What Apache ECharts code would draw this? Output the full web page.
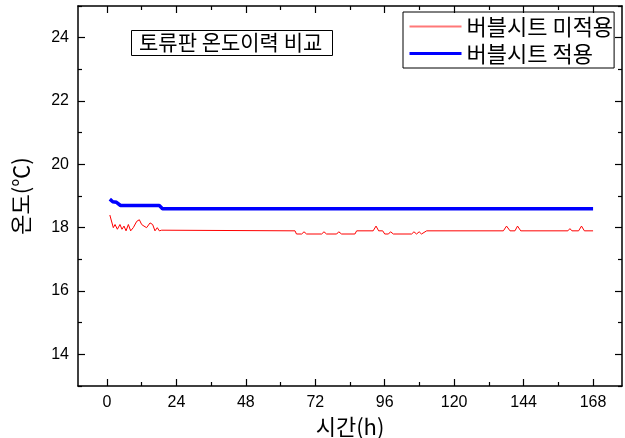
<!DOCTYPE html>
<html>
<head>
<meta charset="utf-8">
<script src="https://cdn.jsdelivr.net/npm/echarts@6/dist/echarts.min.js"></script>
<style>html,body{margin:0;padding:0;background:#fff}#c{width:625px;height:438px}</style>
</head>
<body>
<div id="c"></div>
<script>
const titleText = '토류판 온도이력 비교';
const seriesNames = ['버블시트 미적용', '버블시트 적용'];
const xTicks = [0, 24, 48, 72, 96, 120, 144, 168];
const xMinorTicks = [12, 36, 60, 84, 108, 132, 156];
const yTicks = [14, 16, 18, 20, 22, 24];
const yMinorTicks = [13, 15, 17, 19, 21, 23, 25];

const redHours = [1, 2.2, 2.8, 3.6, 4.5, 5.2, 5.9, 6.6, 7.4, 8.2, 9.1, 10.3, 11.2, 12.0, 12.8, 13.7, 14.9, 15.8, 16.6, 17.4, 18.1, 18.9, 19.5,
  65.0, 65.5, 67.3, 68.1, 69.0, 74.2, 75.0, 75.9, 79.4, 80.1, 81.1, 85.7, 86.3, 92.0, 93.0, 93.9, 95.3, 96.0, 97.3, 98.0, 99.0, 105.3, 106.1, 107.0, 107.9, 108.7, 109.3, 110.5,
  137.0, 138.1, 139.3, 141.0, 141.9, 143.0, 159.3, 160.0, 160.7, 163.0, 164.0, 165.0, 168];
const redTemps = [18.4, 18.0, 18.1, 17.95, 18.1, 17.95, 18.05, 17.9, 18.1, 17.9, 18.0, 18.2, 18.25, 18.1, 18.05, 18.0, 18.15, 18.1, 17.9, 18.0, 17.9, 17.92, 17.9,
  17.9, 17.8, 17.8, 17.87, 17.8, 17.8, 17.87, 17.8, 17.8, 17.87, 17.8, 17.8, 17.9, 17.9, 18.05, 17.9, 17.9, 17.8, 17.8, 17.87, 17.8, 17.8, 17.87, 17.8, 17.87, 17.8, 17.8, 17.9,
  17.9, 18.05, 17.9, 17.9, 18.05, 17.9, 17.9, 17.97, 17.9, 17.9, 18.05, 17.9, 17.9];

const blueHours = [1, 2, 3.3, 4.7, 18.1, 19.2, 168];
const blueTemps = [18.9, 18.82, 18.8, 18.7, 18.7, 18.6, 18.6];

const FONT = '"Liberation Sans", "Noto Sans CJK KR", sans-serif';
const KFONT = '"Noto Sans CJK KR", sans-serif';
const X_MIN = -10, X_MAX = 178, Y_MIN = 13, Y_MAX = 25;
const lineStyle = { color: '#000', width: 1.5 };

function xAx(pos, ticks, len, showLine, showLabel, extra) {
  return Object.assign({
    type: 'value', position: pos, min: X_MIN, max: X_MAX, gridIndex: 0,
    axisLine: { show: showLine, onZero: false, lineStyle },
    axisTick: { show: true, inside: true, length: len, customValues: ticks, lineStyle: { color: '#000', width: 1.2 } },
    axisLabel: { show: showLabel, customValues: ticks, color: '#000', fontSize: 16, fontFamily: FONT, margin: 9 },
    splitLine: { show: false }
  }, extra || {});
}
function yAx(pos, ticks, len, showLine, showLabel, extra) {
  return Object.assign({
    type: 'value', position: pos, min: Y_MIN, max: Y_MAX, gridIndex: 0,
    axisLine: { show: showLine, onZero: false, lineStyle },
    axisTick: { show: true, inside: true, length: len, customValues: ticks, lineStyle: { color: '#000', width: 1.2 } },
    axisLabel: { show: showLabel, customValues: ticks, color: '#000', fontSize: 16, fontFamily: FONT, margin: 9 },
    splitLine: { show: false }
  }, extra || {});
}

const chart = echarts.init(document.getElementById('c'), null, { renderer: 'canvas' });
chart.setOption({
  animation: false,
  backgroundColor: '#fff',
  grid: { left: 78, right: 3, top: 6, bottom: 52, containLabel: false, outerBoundsMode: 'none' },
  title: {
    text: titleText, left: 131, top: 30,
    borderColor: '#000', borderWidth: 1, padding: [2, 10, 3, 8],
    textStyle: { color: '#000', fontSize: 21, fontWeight: 'normal', fontFamily: KFONT }
  },
  legend: {
    show: true,
    orient: 'vertical', left: 403, top: 12,
    borderColor: '#000', borderWidth: 1, padding: [2, 1, 2, 5],
    itemWidth: 52, itemHeight: 12, itemGap: 2,
    itemStyle: { opacity: 0 },
    textStyle: { color: '#000', fontSize: 22, lineHeight: 25, fontFamily: KFONT },
    data: [
      { name: seriesNames[0], lineStyle: { color: '#ff7878', width: 2 } },
      { name: seriesNames[1], lineStyle: { color: '#0000ff', width: 3 } }
    ]
  },
  xAxis: [
    xAx('bottom', xTicks, 7, true, true, { name: '시간(h)', nameLocation: 'middle', nameGap: 26, nameTextStyle: { color: '#000', fontSize: 22, fontFamily: KFONT } }),
    xAx('bottom', xMinorTicks, 4, false, false),
    xAx('top', xTicks, 7, true, false),
    xAx('top', xMinorTicks, 4, false, false)
  ],
  yAxis: [
    yAx('left', yTicks, 7, true, true, { name: '온도(℃)', nameLocation: 'middle', nameGap: 46, nameRotate: 90, nameTextStyle: { color: '#000', fontSize: 22, fontFamily: KFONT } }),
    yAx('left', yMinorTicks, 4, false, false),
    yAx('right', yTicks, 7, true, false),
    yAx('right', yMinorTicks, 4, false, false)
  ],
  series: [
    {
      name: seriesNames[0], type: 'line', xAxisIndex: 0, yAxisIndex: 0,
      data: redHours.map((h, i) => [h, redTemps[i]]),
      showSymbol: false, symbol: 'none',
      lineStyle: { color: '#ff0000', width: 1 }, itemStyle: { color: '#ff0000' }
    },
    {
      name: seriesNames[1], type: 'line', xAxisIndex: 0, yAxisIndex: 0,
      data: blueHours.map((h, i) => [h, blueTemps[i]]),
      showSymbol: false, symbol: 'none',
      lineStyle: { color: '#0000ff', width: 3.5 }, itemStyle: { color: '#0000ff' }
    }
  ]
});
</script>
</body>
</html>
